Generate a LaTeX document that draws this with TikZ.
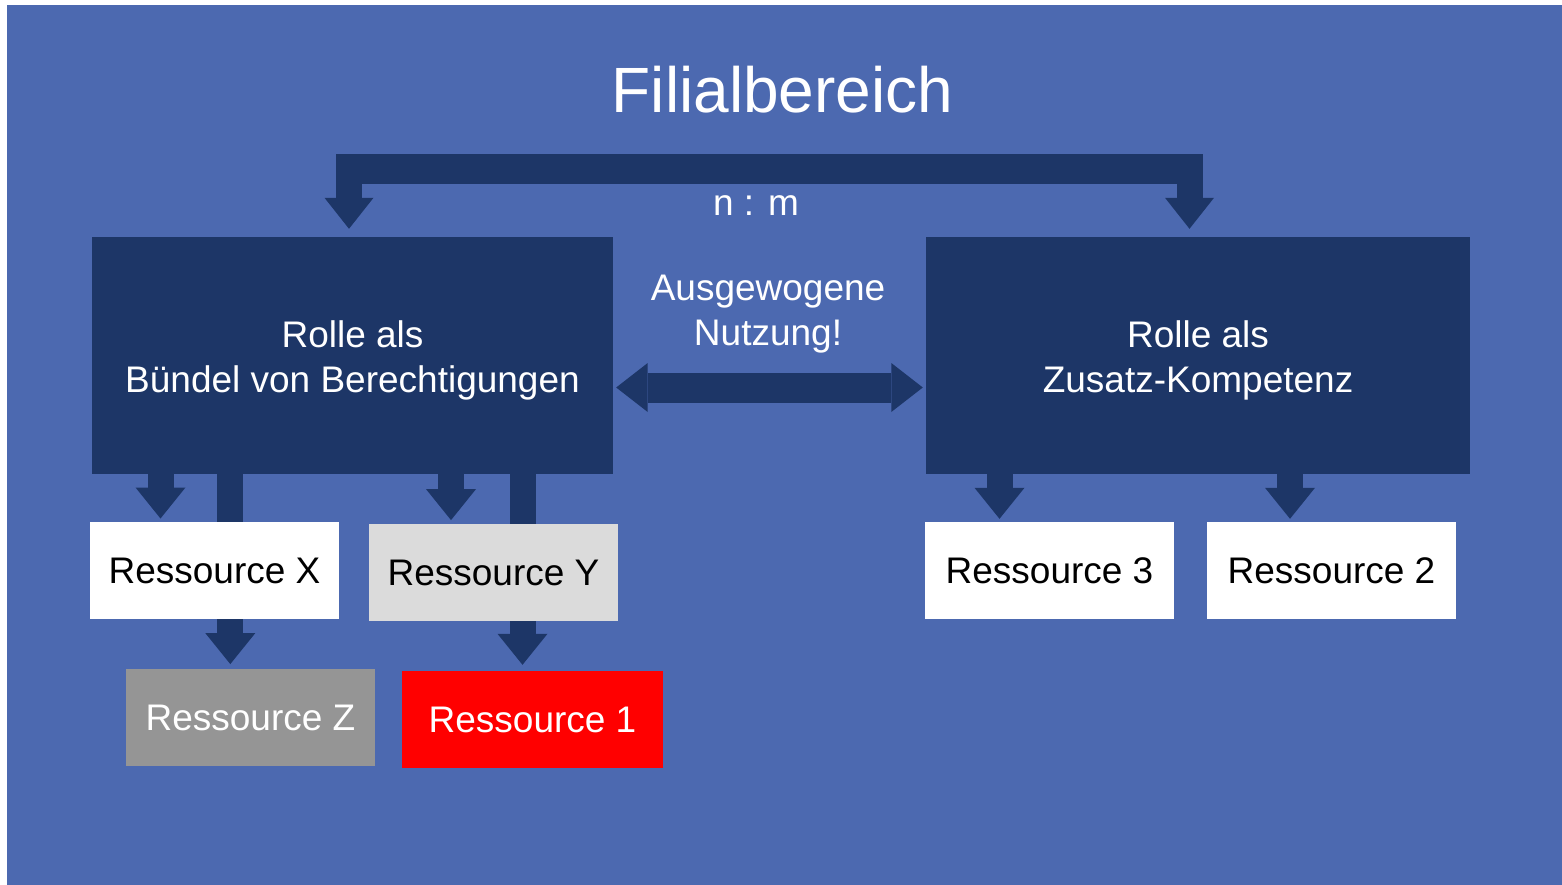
\documentclass[tikz,border=0pt]{standalone}
\usepackage{fontspec}
\setmainfont{Liberation Sans}
\usetikzlibrary{arrows.meta}
\definecolor{bgblue}{HTML}{4C69B0}
\definecolor{navy}{HTML}{1D3667}
\definecolor{lightgrey}{HTML}{DBDBDB}
\definecolor{midgrey}{HTML}{959595}
\definecolor{resred}{RGB}{255,0,0}
\begin{document}
\begin{tikzpicture}[x=1pt,y=-1pt,
  txt/.style={font=\fontsize{37}{45}\selectfont, align=center},
  rolebox/.style={fill=navy, inner sep=0pt, minimum height=237pt},
  roletext/.style={txt, text=white, yshift=-5pt},
  resbox/.style={txt, inner sep=0pt, minimum width=249pt, minimum height=97pt},
  headtip/.style={-{Triangle[width=50pt,length=31pt,line width=0pt]}},
  blockarrow/.style={navy, line width=26pt, headtip},
  twohead/.style={{Triangle[width=49pt,length=31.5pt,line width=0pt]}-{Triangle[width=49pt,length=31.5pt,line width=0pt]}},
]
\useasboundingbox (0,0) rectangle (1562,885);
\fill[white] (0,0) rectangle (1562,885);
\fill[bgblue] (7,5) rectangle (1562,885);

% x positions of the block arrows and heights of the horizontal connectors
\coordinate (xTopL) at (349,0);
\coordinate (xTopR) at (1189.5,0);
\coordinate (yBar) at (0,169);
\coordinate (yMid) at (776,169);
\coordinate (yBoth) at (0,387.5);
\coordinate (xX) at (160.5,0);
\coordinate (xZ) at (230.3,0);
\coordinate (xY) at (451,0);
\coordinate (xOne) at (522.5,0);
\coordinate (xThree) at (999.5,0);
\coordinate (xTwo) at (1290,0);

% title and the two role boxes
\node[anchor=base, text=white, font=\fontsize{64}{70}\selectfont] (title) at (782.5,112.7) {Filialbereich};
\node[rolebox, minimum width=521pt,
  label={[roletext]center:{Rolle als\\Bündel von Berechtigungen}}] (roleL) at (352.5,355.5) {};
\node[rolebox, minimum width=544pt,
  label={[roletext]center:{Rolle als\\Zusatz-Kompetenz}}] (roleR) at (1198,355.5) {};
\node[txt, text=white, anchor=base] (nm) at (756,215.7) {n : m};
\node[txt, text=white] (balance) at (768,314) {Ausgewogene\\Nutzung!};

% n:m bracket over both roles
\draw[navy, line width=26pt, line join=miter,
  {Triangle[width=49pt,length=31pt,line width=0pt]}-{Triangle[width=49pt,length=31pt,line width=0pt]},
  shorten <=8pt, shorten >=8pt]
  (roleL.north -| xTopL) |- (yMid) -| (roleR.north -| xTopR);
\draw[navy, line width=30pt] ([xshift=-13pt]xTopL |- yBar) -- ([xshift=13pt]xTopR |- yBar);

% balance between the roles
\draw[navy, line width=30pt, twohead, shorten <=3pt, shorten >=3pt]
  (roleL.east |- yBoth) -- (roleR.west |- yBoth);

% second-level resources, reached through the first level
\node[resbox, fill=midgrey, text=white] (resZ) at (250.5,717.5) {Ressource Z};
\node[resbox, minimum width=261pt, fill=resred, text=white] (res1) at (532.5,719.5) {Ressource 1};
\draw[blockarrow, shorten >=4.7pt] (roleL.south -| xZ) -- (resZ.north -| xZ);
\draw[blockarrow, shorten >=6pt] (roleL.south -| xOne) -- (res1.north -| xOne);

% first-level resources
\node[resbox, fill=white, text=black] (resX) at (214.5,570.5) {Ressource X};
\node[resbox, fill=lightgrey, text=black] (resY) at (493.5,572.5) {Ressource Y};
\node[resbox, fill=white, text=black] (res3) at (1049.5,570.5) {Ressource 3};
\node[resbox, fill=white, text=black] (res2) at (1331.5,570.5) {Ressource 2};
\draw[blockarrow, shorten >=3.3pt] (roleL.south -| xX) -- (resX.north -| xX);
\draw[blockarrow, shorten >=3.7pt] (roleL.south -| xY) -- (resY.north -| xY);
\draw[blockarrow, shorten >=3pt] (roleR.south -| xThree) -- (res3.north -| xThree);
\draw[blockarrow, shorten >=3pt] (roleR.south -| xTwo) -- (res2.north -| xTwo);
\end{tikzpicture}
\end{document}
